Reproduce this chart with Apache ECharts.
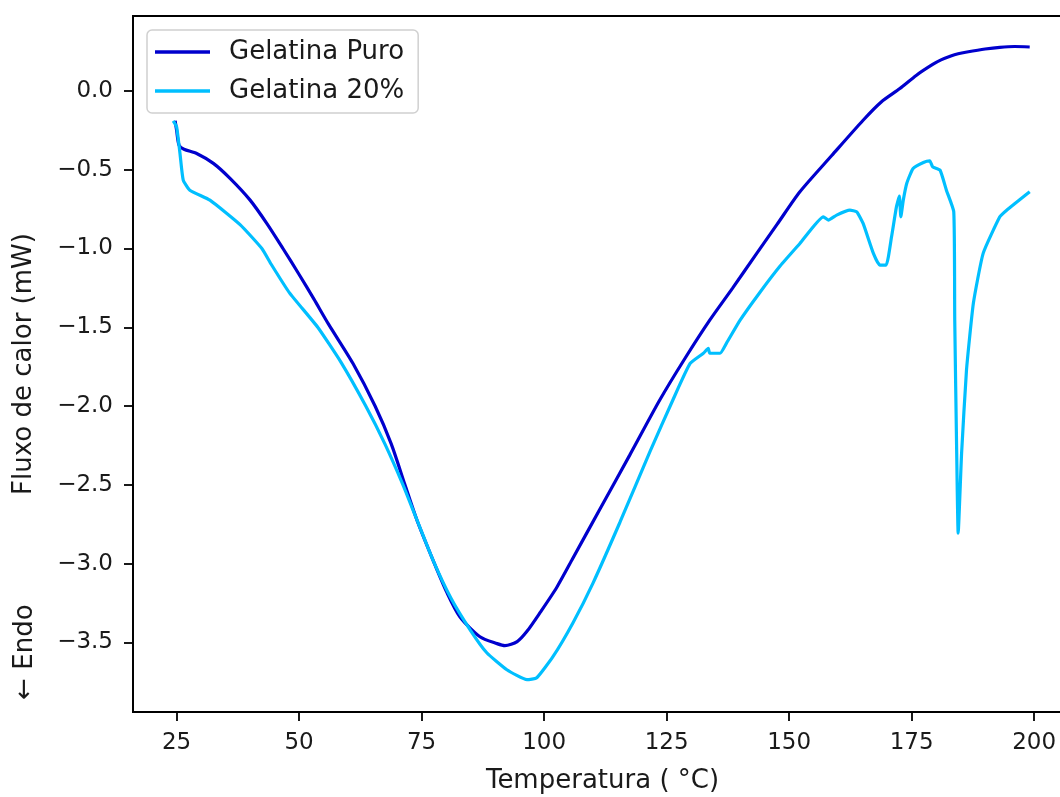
<!DOCTYPE html>
<html>
<head>
<meta charset="utf-8">
<script src="https://cdn.jsdelivr.net/npm/echarts@6/dist/echarts.min.js"></script>
<style>
  html, body { margin: 0; padding: 0; background: #fff; overflow: hidden; }
  #chart { width: 1060px; height: 797px; }
</style>
</head>
<body>
<div id="chart"></div>
<script>
// DSC curves: temperature (°C) and heat flow (mW)
const puroTemp = [24.7, 25.0, 25.5, 26.5, 29.1, 32.5, 35.9, 40.0, 43.5, 46.7, 50.0, 53.0, 56.0, 61.0, 65.5, 68.8, 71.6, 74.0, 77.3, 80.2, 82.8, 86.9, 90.4, 92.0, 94.5, 96.5, 99.2, 102.6, 105.7, 111.4, 117.5, 123.6, 128.7, 133.8, 138.5, 143.0, 147.5, 152.2, 158.7, 165.1, 168.8, 172.6, 176.0, 179.3, 181.0, 183.0, 184.5, 186.3, 190.0, 193.0, 196.0, 199.1];
const puroFlow = [-0.19, -0.25, -0.345, -0.37, -0.397, -0.460, -0.555, -0.693, -0.845, -1.0, -1.165, -1.32, -1.48, -1.73, -2.0, -2.24, -2.5, -2.72, -2.976, -3.186, -3.337, -3.464, -3.508, -3.521, -3.495, -3.43, -3.31, -3.15, -2.976, -2.653, -2.31, -1.962, -1.70, -1.455, -1.25, -1.048, -0.849, -0.640, -0.41, -0.186, -0.07, 0.015, 0.10, 0.168, 0.197, 0.222, 0.236, 0.247, 0.266, 0.277, 0.282, 0.279];

const g20Temp = [24.3, 25.0, 25.7, 26.35, 27.7, 31.8, 38.0, 42.4, 44.3, 48.0, 53.8, 58.5, 63.6, 67.5, 71.2, 73.5, 77.3, 81.0, 84.9, 88.3, 92.4, 96.5, 98.5, 101.8, 105.9, 110.0, 115.5, 121.6, 126.3, 129.8, 132.5, 133.5, 133.8, 135.9, 137.2, 140.0, 144.1, 148.2, 152.2, 157.0, 158.0, 159.7, 162.4, 163.8, 165.1, 167.2, 168.5, 169.8, 170.9, 171.9, 172.5, 172.8, 173.3, 174.0, 175.3, 177.4, 178.7, 179.3, 180.8, 182.1, 183.6, 183.8, 184.2, 184.5, 185.2, 186.2, 187.6, 189.6, 193.0, 194.4, 199.1];
const g20Flow = [-0.19, -0.228, -0.40, -0.566, -0.63, -0.693, -0.85, -1.0, -1.1, -1.28, -1.5, -1.72, -2.0, -2.24, -2.5, -2.68, -2.976, -3.22, -3.42, -3.566, -3.674, -3.737, -3.725, -3.591, -3.375, -3.122, -2.736, -2.29, -1.96, -1.73, -1.665, -1.634, -1.665, -1.665, -1.602, -1.455, -1.276, -1.11, -0.968, -0.799, -0.820, -0.788, -0.757, -0.767, -0.841, -1.031, -1.105, -1.105, -0.926, -0.736, -0.668, -0.799, -0.693, -0.587, -0.492, -0.454, -0.444, -0.482, -0.503, -0.630, -0.767, -1.454, -2.299, -2.807, -2.299, -1.771, -1.348, -1.031, -0.799, -0.757, -0.640];

const xTicks = [25, 50, 75, 100, 125, 150, 175, 200];
const yTicks = [-3.5, -3.0, -2.5, -2.0, -1.5, -1.0, -0.5, 0.0];

const seriesNames = ['Gelatina Puro', 'Gelatina 20%'];
const seriesColors = ['#0000CD', '#00BFFF'];

const zip = (a, b) => a.map((v, i) => [v, b[i]]);
const FONT = 'DejaVu Sans';
const TXT = '#1a1a1a';

const chart = echarts.init(document.getElementById('chart'), null, { renderer: 'canvas' });

chart.setOption({
  animation: false,
  backgroundColor: '#ffffff',
  grid: {
    left: 133, top: 16, width: 939, height: 696,
    outerBoundsMode: 'none', containLabel: false,
    show: true, borderColor: '#000', borderWidth: 1.8, backgroundColor: 'transparent'
  },
  legend: {
    orient: 'vertical',
    left: 147, top: 30,
    padding: [9, 14, 9, 8],
    itemGap: 13,
    itemWidth: 55, itemHeight: 3.5,
    icon: 'rect',
    backgroundColor: 'rgba(255,255,255,0.85)',
    borderColor: '#d0d0d0', borderWidth: 1.5, borderRadius: 5,
    textStyle: { fontFamily: FONT, fontSize: 26, color: TXT, lineHeight: 26, padding: [0, 0, 0, 14] },
    data: seriesNames
  },
  xAxis: {
    type: 'value',
    min: 16.1, max: 207.73,
    splitLine: { show: false },
    axisLine: { show: true, onZero: false, lineStyle: { color: '#000', width: 1.8 } },
    axisTick: { show: true, length: 9, lineStyle: { color: '#000', width: 1.8 }, customValues: xTicks },
    axisLabel: {
      customValues: xTicks, margin: 20,
      fontFamily: FONT, fontSize: 23, color: TXT,
      formatter: v => String(Math.round(v))
    },
    name: 'Temperatura ( °C)',
    nameLocation: 'middle', nameGap: 56,
    nameTextStyle: { fontFamily: FONT, fontSize: 26, color: TXT }
  },
  yAxis: {
    type: 'value',
    min: -3.942, max: 0.4756,
    splitLine: { show: false },
    axisLine: { show: true, onZero: false, lineStyle: { color: '#000', width: 1.8 } },
    axisTick: { show: true, length: 9, lineStyle: { color: '#000', width: 1.8 }, customValues: yTicks },
    axisLabel: {
      customValues: yTicks, margin: 20,
      fontFamily: FONT, fontSize: 23, color: TXT,
      formatter: v => (v < 0 ? '\u2212' : '') + Math.abs(v).toFixed(1)
    },
    name: 'Fluxo de calor (mW)',
    nameLocation: 'middle', nameGap: 96, nameRotate: 90,
    nameTextStyle: { fontFamily: FONT, fontSize: 26, color: TXT }
  },
  graphic: [{
    type: 'text',
    x: 25, y: 652, rotation: Math.PI / 2,
    style: {
      text: '\u2190 Endo', fontFamily: FONT, fontSize: 26, fill: TXT,
      align: 'center', verticalAlign: 'middle'
    }
  }],
  series: [
    {
      name: seriesNames[0], type: 'line', data: zip(puroTemp, puroFlow),
      showSymbol: false, symbol: 'none', smooth: 0.25,
      color: seriesColors[0], lineStyle: { color: seriesColors[0], width: 3.2 }
    },
    {
      name: seriesNames[1], type: 'line', data: zip(g20Temp, g20Flow),
      showSymbol: false, symbol: 'none', smooth: 0.15,
      color: seriesColors[1], lineStyle: { color: seriesColors[1], width: 3.2 }
    }
  ]
});
</script>
</body>
</html>
